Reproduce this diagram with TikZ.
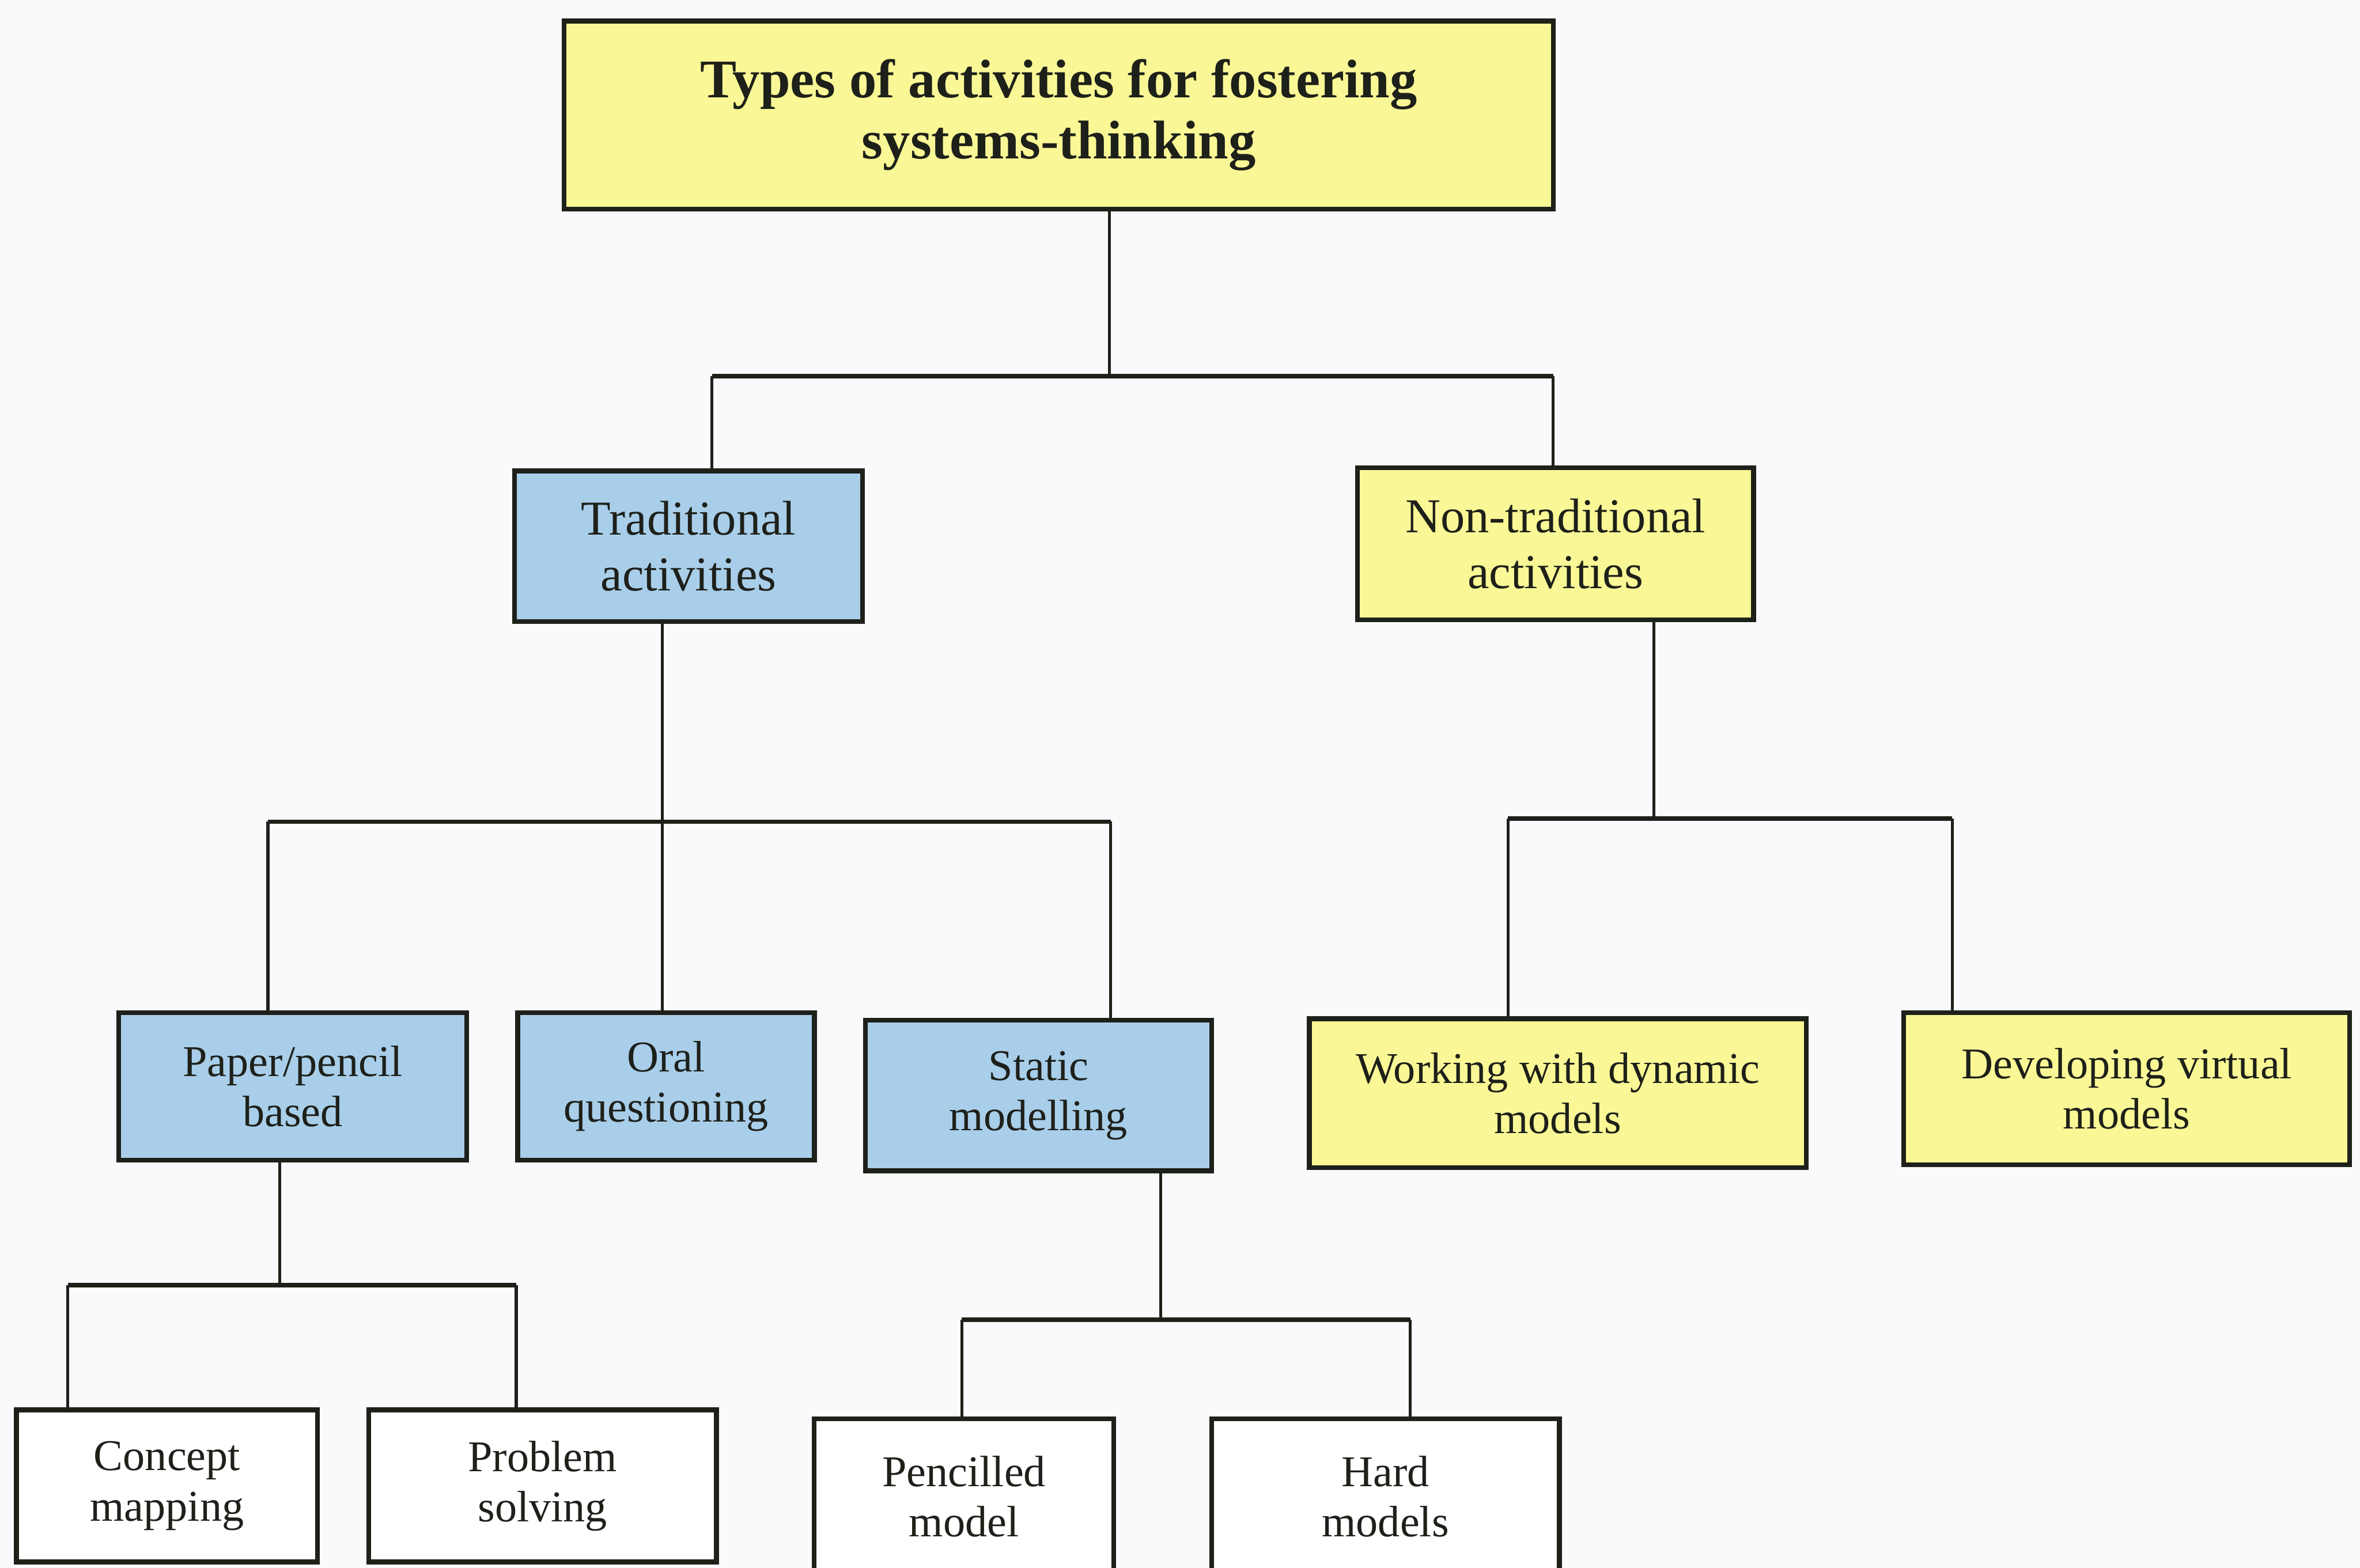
\documentclass[tikz,border=0pt]{standalone}
\usepackage{fontspec}
\setmainfont{Liberation Serif}
\definecolor{paper}{RGB}{248,250,252}
\definecolor{boxyellow}{RGB}{250,248,150}
\definecolor{boxblue}{RGB}{168,206,233}
\definecolor{ink}{RGB}{30,32,26}
\tikzset{
  box/.style={draw=ink, line width=0.9pt, text=ink, align=center, inner sep=2pt},
  rootbox/.style={box, fill=boxyellow, font=\fontsize{10.3}{11.6}\selectfont\bfseries},
  yellowbox/.style={box, fill=boxyellow},
  bluebox/.style={box, fill=boxblue},
  whitebox/.style={box, fill=white},
  lvltwo/.style={font=\fontsize{9.2}{10.6}\selectfont},
  lvlthree/.style={font=\fontsize{8.3}{9.5}\selectfont},
  wire/.style={draw=ink, line width=0.55pt},
  bus/.style={draw=ink, line width=0.8pt},
}
\begin{document}
\begin{tikzpicture}[x=0.01cm, y=-0.01cm]
\fill[paper] (0,0) rectangle (1568,1042);
\useasboundingbox (0,0) rectangle (1568,1042);
\clip (0,0) rectangle (1568,1042);

% root
\node[rootbox, minimum width=6.57cm, minimum height=1.25cm] (root) at (703.5,76.5)
  {Types of activities for fostering\\systems-thinking};

% second level
\node[bluebox, lvltwo, minimum width=2.31cm, minimum height=1.00cm] (trad) at (457.5,363)
  {Traditional\\activities};
\node[yellowbox, lvltwo, minimum width=2.63cm, minimum height=1.01cm] (nontrad) at (1033.5,361.5)
  {Non-traditional\\activities};

% third level
\node[bluebox, lvlthree, minimum width=2.31cm, minimum height=0.98cm] (paperpencil) at (194.5,722)
  {Paper/pencil\\based};
\node[bluebox, lvlthree, minimum width=1.97cm, minimum height=0.98cm] (oral) at (442.5,722)
  {Oral\\questioning};
\node[bluebox, lvlthree, minimum width=2.30cm, minimum height=1.00cm] (static) at (690,728)
  {Static\\modelling};
\node[yellowbox, lvlthree, minimum width=3.30cm, minimum height=0.99cm] (dynamic) at (1035,726.5)
  {Working with dynamic\\models};
\node[yellowbox, lvlthree, minimum width=2.96cm, minimum height=1.01cm] (virtual) at (1413,723.5)
  {Developing virtual\\models};

% fourth level
\node[whitebox, lvlthree, minimum width=2.00cm, minimum height=1.01cm] (concept) at (111,987.5)
  {Concept\\mapping};
\node[whitebox, lvlthree, minimum width=2.31cm, minimum height=1.01cm] (problem) at (360.5,987.5)
  {Problem\\solving};
\node[whitebox, lvlthree, minimum width=1.99cm, minimum height=1.03cm] (pencilled) at (640.5,994.5)
  {Pencilled\\model};
\node[whitebox, lvlthree, minimum width=2.31cm, minimum height=1.03cm] (hard) at (920.5,994.5)
  {Hard\\models};

% bus junctions
\coordinate (aT) at (737,250);  \coordinate (aL) at (473,250);  \coordinate (aR) at (1032,250);
\coordinate (bT) at (440,546);  \coordinate (bL) at (178,546);  \coordinate (bR) at (738,546);
\coordinate (cT) at (1099,544); \coordinate (cL) at (1002,544); \coordinate (cR) at (1297,544);
\coordinate (dT) at (186,854);  \coordinate (dL) at (45,854);   \coordinate (dR) at (343,854);
\coordinate (eT) at (771,877);  \coordinate (eL) at (639,877);  \coordinate (eR) at (937,877);

% root -> second level
\draw[wire] (aT |- root.south) -- (aT);
\draw[bus] (aL) -- (aR);
\draw[wire] (aL) -- (aL |- trad.north);
\draw[wire] (aR) -- (aR |- nontrad.north);

% traditional -> its children
\draw[wire] (bT |- trad.south) -- (bT);
\draw[bus] (bL) -- (bR);
\draw[wire] (bL) -- (bL |- paperpencil.north);
\draw[wire] (bT) -- (bT |- oral.north);
\draw[wire] (bR) -- (bR |- static.north);

% non-traditional -> its children
\draw[wire] (cT |- nontrad.south) -- (cT);
\draw[bus] (cL) -- (cR);
\draw[wire] (cL) -- (cL |- dynamic.north);
\draw[wire] (cR) -- (cR |- virtual.north);

% paper/pencil -> its children
\draw[wire] (dT |- paperpencil.south) -- (dT);
\draw[bus] (dL) -- (dR);
\draw[wire] (dL) -- (dL |- concept.north);
\draw[wire] (dR) -- (dR |- problem.north);

% static modelling -> its children
\draw[wire] (eT |- static.south) -- (eT);
\draw[bus] (eL) -- (eR);
\draw[wire] (eL) -- (eL |- pencilled.north);
\draw[wire] (eR) -- (eR |- hard.north);
\end{tikzpicture}
\end{document}
